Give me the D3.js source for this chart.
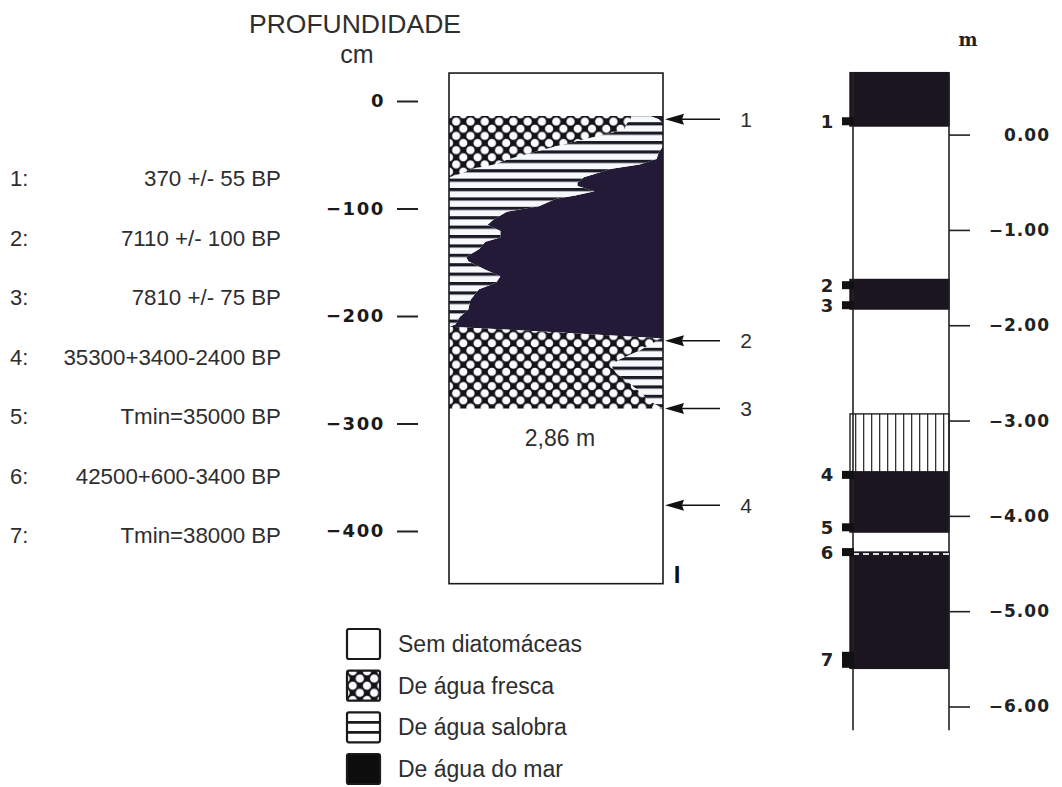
<!DOCTYPE html>
<html>
<head>
<meta charset="utf-8">
<script src="https://cdn.jsdelivr.net/npm/d3@7"></script>
<style>
  body { margin: 0; background: #fff; }
  svg { display: block; }
</style>
</head>
<body>
<svg id="chart" width="1062" height="787"></svg>
<script>
// ---- Core I: diatom profile (depth in cm) ----
const depthTicks = [0, -100, -200, -300, -400];
const coreTopCm = 26;
const coreBaseCm = -449;

// Share of each diatom group along the core, read left to right:
// freshwater, then brackish; the remainder is marine.
const profileDepth = [-14, -17, -21, -26, -29, -35, -42, -48, -54, -59, -63, -68, -71, -76, -79, -84, -88, -91, -98,
  -103, -110, -115, -121, -127, -131, -138, -145, -149, -157, -163, -169, -175, -185, -194, -201, -208, -210,
  -215, -221, -222, -232, -241, -247, -253, -262, -272, -278, -283, -286];
const freshPct = [85, 85, 83, 82, 77, 64, 50, 39, 28, 21, 11, 5, 0, 0, 0, 0, 0, 0, 0,
  0, 0, 0, 0, 0, 0, 0, 0, 0, 0, 0, 0, 0, 0, 0, 0, 0, 0,
  50, 100, 98, 89, 79, 76, 78, 84, 90, 93, 97, 100];
const brackishPct = [9, 13, 17, 18, 23, 36, 50, 59, 69, 68, 65, 63, 63, 60, 60, 68, 59, 50, 42,
  27, 21, 18, 24, 24, 17, 14, 8, 9, 17, 24, 22, 14, 10, 9, 5, 3, 0,
  0, 0, 2, 11, 21, 24, 22, 16, 10, 7, 3, 0];

const arrowDepth = [-17, -223, -286, -376];
const arrowLabel = ["1", "2", "3", "4"];
const coreLengthCm = -286;
const coreLengthLabel = "2,86 m";

// ---- Radiocarbon dates of the samples ----
const sampleNo = ["1:", "2:", "3:", "4:", "5:", "6:", "7:"];
const sampleAge = ["370 +/- 55 BP", "7110 +/- 100 BP", "7810 +/- 75 BP", "35300+3400-2400 BP",
  "Tmin=35000 BP", "42500+600-3400 BP", "Tmin=38000 BP"];

// ---- Stratigraphic column (level in m) ----
const levelTicks = [0, -1, -2, -3, -4, -5, -6];
const columnTopM = 0.65;
const columnBaseM = -6.25;
const layerTop = [0.65, -1.52, -2.93, -3.54, -4.38];
const layerBase = [0.09, -1.83, -3.54, -4.17, -5.60];
const layerKind = ["marine", "marine", "vertical", "marine", "marine"];
const sampleLevel = [0.14, -1.58, -1.79, -3.57, -4.12, -4.38, -5.51];
const sampleLabel = ["1", "2", "3", "4", "5", "6", "7"];

// ---- Legend ----
const legendKind = ["none", "fresh", "brackish", "marine"];
const legendLabel = ["Sem diatomáceas", "De água fresca", "De água salobra", "De água do mar"];

const svg = d3.select("#chart");
const sans = "'Liberation Sans', Arial, sans-serif";
const bold = "'DejaVu Sans', sans-serif";
const textGrey = "#2e2e2e";
const marineCore = "#221a36";
const marineCol = "#1b1520";

// ---- Patterns ----
const defs = svg.append("defs");
const P = 14.3;
const fp = defs.append("pattern").attr("id", "freshPat")
  .attr("patternUnits", "userSpaceOnUse").attr("width", P).attr("height", P)
  .attr("x", 449).attr("y", 0);
fp.append("rect").attr("width", P).attr("height", P).attr("fill", "#141418");
[[0, 0], [P, 0], [0, P], [P, P], [P / 2, P / 2]].forEach(([cx, cy]) => {
  fp.append("circle").attr("cx", cx).attr("cy", cy).attr("r", 4.1).attr("fill", "#fbfbff");
});
const bp = defs.append("pattern").attr("id", "brackPat")
  .attr("patternUnits", "userSpaceOnUse").attr("width", 20).attr("height", 9.4);
bp.append("rect").attr("width", 20).attr("height", 9.4).attr("fill", "#f6f9fc");
bp.append("rect").attr("y", 0).attr("width", 20).attr("height", 3.2).attr("fill", "#1a1a26");

// ---- Core profile ----
const yCm = d3.scaleLinear().domain([0, -400]).range([101, 531]);
const xPct = d3.scaleLinear().domain([0, 100]).range([449, 663]);

const rows = profileDepth.map((d, i) => ({
  d, f: freshPct[i], b: brackishPct[i]
}));

const core = svg.append("g");
core.append("rect")
  .attr("x", xPct(0)).attr("y", yCm(coreTopCm))
  .attr("width", xPct(100) - xPct(0)).attr("height", yCm(coreBaseCm) - yCm(coreTopCm))
  .attr("fill", "#fff");

const area = (lo, hi) => d3.area().y(r => yCm(r.d)).x0(r => xPct(lo(r))).x1(r => xPct(hi(r)));
core.append("path").datum(rows)
  .attr("d", area(r => r.f + r.b, () => 100))
  .attr("fill", marineCore);
core.append("path").datum(rows)
  .attr("d", area(r => r.f, r => r.f + r.b))
  .attr("fill", "url(#brackPat)");
core.append("path").datum(rows)
  .attr("d", area(() => 0, r => r.f))
  .attr("fill", "url(#freshPat)");

core.append("rect")
  .attr("x", xPct(0)).attr("y", yCm(coreTopCm))
  .attr("width", xPct(100) - xPct(0)).attr("height", yCm(coreBaseCm) - yCm(coreTopCm))
  .attr("fill", "none").attr("stroke", "#1a1a1a").attr("stroke-width", 1.6);

core.append("text")
  .attr("x", (xPct(0) + xPct(100)) / 2 + 4).attr("y", yCm(coreLengthCm) + 38)
  .attr("text-anchor", "middle").attr("font-family", sans).attr("font-size", 23)
  .attr("fill", textGrey).text(coreLengthLabel);

core.append("text")
  .attr("x", 677).attr("y", yCm(coreBaseCm) - 1)
  .attr("text-anchor", "middle").attr("font-family", sans).attr("font-weight", "bold")
  .attr("font-size", 24).attr("fill", "#111").text("I");

// Sample arrows on the core
const arrows = core.selectAll("g.arrow").data(arrowDepth).join("g").attr("class", "arrow")
  .attr("transform", d => `translate(${xPct(100) + 2},${yCm(d)})`);
arrows.append("line").attr("x1", 10).attr("x2", 55).attr("stroke", "#111").attr("stroke-width", 1.6);
arrows.append("path").attr("d", "M0,0L19,-5.5L17,0L19,5.5Z").attr("fill", "#111");
arrows.append("text").attr("x", 81).attr("dy", "0.35em")
  .attr("text-anchor", "middle").attr("font-family", sans).attr("font-size", 21)
  .attr("fill", textGrey).text((d, i) => arrowLabel[i]);

// Depth axis
const depthAxis = d3.axisLeft(yCm).tickValues(depthTicks).tickSize(21).tickPadding(12)
  .tickFormat(d3.format("d"));
const ga = svg.append("g").attr("transform", "translate(418,0)").call(depthAxis);
ga.select(".domain").remove();
ga.selectAll(".tick line").attr("stroke", "#222").attr("stroke-width", 2);
ga.selectAll(".tick text").attr("font-family", bold).attr("font-weight", "bold")
  .attr("font-size", 18).attr("fill", "#1a1a1a").attr("letter-spacing", 1.6);

svg.append("text").attr("x", 355).attr("y", 33).attr("text-anchor", "middle")
  .attr("font-family", sans).attr("font-size", 26.5).attr("fill", textGrey).text("PROFUNDIDADE");
svg.append("text").attr("x", 357).attr("y", 63).attr("text-anchor", "middle")
  .attr("font-family", sans).attr("font-size", 25).attr("fill", textGrey).text("cm");

// ---- Sample dates list ----
const yList = d3.scalePoint().domain(sampleNo).range([186, 543]);
const list = svg.append("g");
list.selectAll("text.no").data(sampleNo).join("text").attr("class", "no")
  .attr("x", 10).attr("y", d => yList(d))
  .attr("font-family", sans).attr("font-size", 22).attr("fill", textGrey).text(d => d);
list.selectAll("text.age").data(sampleAge).join("text").attr("class", "age")
  .attr("x", 281).attr("y", (d, i) => yList(sampleNo[i]))
  .attr("text-anchor", "end").attr("font-family", sans).attr("font-size", 22.3)
  .attr("fill", textGrey).text(d => d);

// ---- Stratigraphic column ----
const yM = d3.scaleLinear().domain([0, -6]).range([134.6, 706.5]);
const colL = 853, colR = 949;
const col = svg.append("g");

const vp = defs.append("pattern").attr("id", "vertPat")
  .attr("patternUnits", "userSpaceOnUse").attr("width", 8).attr("height", 10).attr("x", colL + 2);
vp.append("rect").attr("width", 8).attr("height", 10).attr("fill", "#fff");
vp.append("rect").attr("x", 0).attr("width", 1.3).attr("height", 10).attr("fill", "#333");

col.selectAll("rect.layer").data(layerTop).join("rect").attr("class", "layer")
  .attr("x", colL - 3).attr("width", colR - colL + 3)
  .attr("y", d => yM(d)).attr("height", (d, i) => yM(layerBase[i]) - yM(d))
  .attr("fill", (d, i) => layerKind[i] === "marine" ? marineCol : "url(#vertPat)")
  .attr("stroke", (d, i) => layerKind[i] === "marine" ? marineCol : "#222")
  .attr("stroke-width", 1.4);

col.append("line").attr("x1", colL).attr("x2", colL)
  .attr("y1", yM(columnTopM)).attr("y2", yM(columnBaseM)).attr("stroke", "#222").attr("stroke-width", 1.6);
col.append("line").attr("x1", colR).attr("x2", colR)
  .attr("y1", yM(columnTopM)).attr("y2", yM(columnBaseM)).attr("stroke", "#222").attr("stroke-width", 1.6);

// dashed contact at sample 6
col.append("line").attr("x1", colL).attr("x2", colR)
  .attr("y1", yM(sampleLevel[5]) + 2).attr("y2", yM(sampleLevel[5]) + 2)
  .attr("stroke", "#ddd").attr("stroke-width", 2).attr("stroke-dasharray", "6,4");

col.selectAll("rect.tab").data(sampleLevel).join("rect").attr("class", "tab")
  .attr("x", colL - 11).attr("width", 12)
  .attr("y", (d, i) => yM(d) - (i === 6 ? 8 : 4)).attr("height", (d, i) => i === 6 ? 16 : 8)
  .attr("fill", "#111");

col.selectAll("text.slab").data(sampleLevel).join("text").attr("class", "slab")
  .attr("x", 827).attr("y", d => yM(d)).attr("dy", "0.36em")
  .attr("text-anchor", "middle").attr("font-family", bold).attr("font-weight", "bold")
  .attr("font-size", 18).attr("fill", "#222").text((d, i) => sampleLabel[i]);

const levelAxis = d3.axisRight(yM).tickValues(levelTicks).tickSize(21).tickPadding(10)
  .tickFormat(d3.format(".2f"));
const gm = svg.append("g").attr("transform", `translate(${colR},0)`).call(levelAxis);
gm.select(".domain").remove();
gm.selectAll(".tick line").attr("stroke", "#222").attr("stroke-width", 1.6);
gm.selectAll(".tick text").attr("x", 101).attr("text-anchor", "end")
  .attr("font-family", bold).attr("font-weight", "bold").attr("font-size", 17)
  .attr("letter-spacing", 1).attr("fill", "#222");

svg.append("text").attr("x", 968).attr("y", 46).attr("text-anchor", "middle")
  .attr("font-family", "'DejaVu Serif', serif").attr("font-weight", "bold")
  .attr("font-size", 18).attr("fill", "#222").text("m");

// ---- Legend ----
const yLeg = d3.scalePoint().domain(legendKind).range([644, 769]);
const leg = svg.append("g");
const legRow = leg.selectAll("g").data(legendKind).join("g")
  .attr("transform", d => `translate(347,${yLeg(d)})`);
legRow.append("rect").attr("x", 0).attr("y", -15).attr("width", 33).attr("height", 30).attr("rx", 2)
  .attr("fill", d => d === "marine" ? "#0d0d0d" : d === "fresh" ? "url(#freshPat)" : "#fff")
  .attr("stroke", "#1a1a1a").attr("stroke-width", 2.2);
legRow.filter(d => d === "brackish").selectAll("line").data([-5, 5]).join("line")
  .attr("x1", 0).attr("x2", 33).attr("y1", d => d).attr("y2", d => d)
  .attr("stroke", "#1a1a1a").attr("stroke-width", 2.6);
legRow.append("text").attr("x", 51).attr("dy", "0.35em")
  .attr("font-family", sans).attr("font-size", 23).attr("fill", textGrey)
  .text((d, i) => legendLabel[i]);
</script>
</body>
</html>
